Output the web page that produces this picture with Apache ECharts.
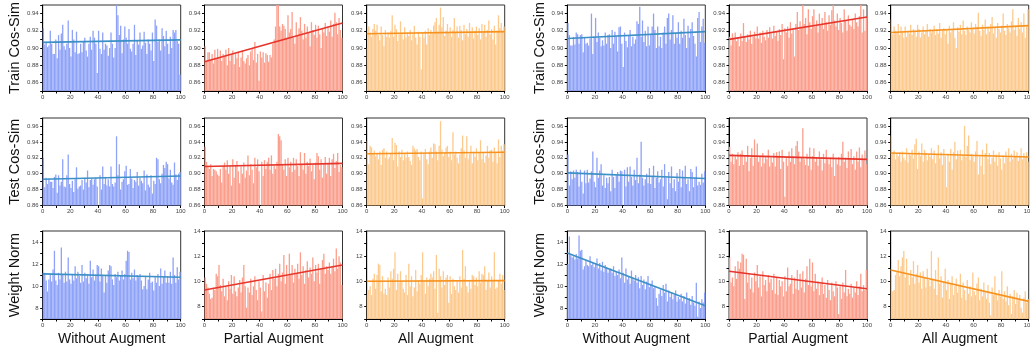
<!DOCTYPE html>
<html>
<head>
<meta charset="utf-8">
<script src="https://cdn.jsdelivr.net/npm/echarts@6/dist/echarts.min.js"></script>
<style>
html, body { margin: 0; padding: 0; background: #fff; }
#main { width: 1030px; height: 348px; }
</style>
</head>
<body>
<div id="main"></div>
<script>
//row / column titles
var rowNames = ['Train Cos-Sim', 'Test Cos-Sim', 'Weight Norm'];
var colNames = ['Without Augment', 'Partial Augment', 'All Augment'];

//train cos-sim, left group
var trainNoAugL = [
	0.923, 0.904, 0.906, 0.901, 0.903, 0.920, 0.905, 0.893, 0.893, 0.910,
	0.888, 0.915, 0.898, 0.917, 0.927, 0.902, 0.898, 0.905, 0.932, 0.900,
	0.890, 0.921, 0.910, 0.895, 0.919, 0.893, 0.894, 0.905, 0.895, 0.907,
	0.912, 0.897, 0.890, 0.905, 0.913, 0.898, 0.920, 0.912, 0.905, 0.871,
	0.920, 0.899, 0.893, 0.918, 0.898, 0.905, 0.903, 0.891, 0.900, 0.918,
	0.905, 0.889, 0.900, 0.950, 0.938, 0.915, 0.926, 0.894, 0.910, 0.925,
	0.912, 0.905, 0.922, 0.899, 0.896, 0.905, 0.927, 0.892, 0.909, 0.904,
	0.918, 0.899, 0.903, 0.919, 0.906, 0.893, 0.910, 0.905, 0.897, 0.918,
	0.885, 0.933, 0.926, 0.907, 0.910, 0.897, 0.923, 0.914, 0.902, 0.920,
	0.905, 0.893, 0.913, 0.900, 0.921, 0.918, 0.921, 0.908, 0.905, 0.869
];
var trainPartL = [
	0.902, 0.884, 0.895, 0.895, 0.886, 0.893, 0.882, 0.898, 0.888, 0.899,
	0.889, 0.897, 0.885, 0.893, 0.890, 0.898, 0.880, 0.900, 0.885, 0.892,
	0.897, 0.881, 0.893, 0.888, 0.895, 0.878, 0.889, 0.897, 0.885, 0.882,
	0.888, 0.892, 0.880, 0.896, 0.899, 0.886, 0.907, 0.883, 0.893, 0.862,
	0.896, 0.889, 0.895, 0.883, 0.894, 0.892, 0.884, 0.892, 0.889, 0.905,
	0.910, 0.925, 0.950, 0.950, 0.925, 0.920, 0.928, 0.926, 0.922, 0.912,
	0.938, 0.918, 0.922, 0.942, 0.912, 0.905, 0.930, 0.915, 0.923, 0.936,
	0.920, 0.910, 0.928, 0.912, 0.925, 0.918, 0.902, 0.930, 0.921, 0.915,
	0.927, 0.912, 0.926, 0.916, 0.900, 0.923, 0.918, 0.929, 0.914, 0.925,
	0.919, 0.932, 0.913, 0.928, 0.941, 0.930, 0.916, 0.935, 0.921, 0.912
];
var trainAllL = [
	0.900, 0.925, 0.918, 0.913, 0.922, 0.928, 0.920, 0.927, 0.915, 0.909,
	0.925, 0.915, 0.902, 0.921, 0.913, 0.918, 0.912, 0.920, 0.938, 0.913,
	0.927, 0.922, 0.908, 0.916, 0.931, 0.917, 0.910, 0.924, 0.912, 0.918,
	0.914, 0.921, 0.909, 0.916, 0.926, 0.912, 0.904, 0.919, 0.913, 0.875,
	0.918, 0.912, 0.920, 0.904, 0.923, 0.915, 0.921, 0.917, 0.926, 0.930,
	0.935, 0.919, 0.927, 0.947, 0.924, 0.936, 0.914, 0.920, 0.928, 0.918,
	0.924, 0.913, 0.921, 0.935, 0.918, 0.925, 0.912, 0.926, 0.921, 0.909,
	0.927, 0.916, 0.922, 0.913, 0.929, 0.918, 0.924, 0.911, 0.920, 0.925,
	0.915, 0.923, 0.910, 0.928, 0.918, 0.927, 0.913, 0.921, 0.932, 0.916,
	0.922, 0.910, 0.926, 0.904, 0.920, 0.938, 0.923, 0.929, 0.920, 0.925
];
//train cos-sim, right group
var trainNoAugR = [
	0.929, 0.915, 0.903, 0.903, 0.913, 0.904, 0.918, 0.916, 0.905, 0.915,
	0.916, 0.895, 0.912, 0.905, 0.906, 0.903, 0.911, 0.940, 0.893, 0.913,
	0.935, 0.907, 0.918, 0.912, 0.902, 0.909, 0.903, 0.918, 0.905, 0.915,
	0.916, 0.900, 0.921, 0.905, 0.919, 0.913, 0.896, 0.924, 0.925, 0.905,
	0.878, 0.918, 0.908, 0.901, 0.915, 0.921, 0.902, 0.913, 0.905, 0.910,
	0.931, 0.928, 0.948, 0.913, 0.932, 0.907, 0.920, 0.902, 0.925, 0.903,
	0.915, 0.925, 0.940, 0.921, 0.900, 0.925, 0.902, 0.913, 0.900, 0.918,
	0.925, 0.905, 0.935, 0.940, 0.910, 0.921, 0.938, 0.905, 0.917, 0.912,
	0.930, 0.905, 0.920, 0.912, 0.934, 0.915, 0.900, 0.926, 0.912, 0.922,
	0.930, 0.914, 0.905, 0.890, 0.935, 0.942, 0.907, 0.925, 0.934, 0.906
];
var trainPartR = [
	0.913, 0.903, 0.917, 0.911, 0.918, 0.908, 0.912, 0.902, 0.917, 0.908,
	0.929, 0.913, 0.907, 0.916, 0.910, 0.920, 0.905, 0.913, 0.919, 0.911,
	0.925, 0.911, 0.918, 0.906, 0.920, 0.913, 0.909, 0.921, 0.912, 0.924,
	0.917, 0.911, 0.926, 0.914, 0.919, 0.908, 0.922, 0.915, 0.928, 0.887,
	0.923, 0.918, 0.925, 0.912, 0.930, 0.917, 0.922, 0.890, 0.928, 0.942,
	0.921, 0.931, 0.925, 0.950, 0.928, 0.935, 0.916, 0.945, 0.930, 0.922,
	0.937, 0.945, 0.925, 0.932, 0.918, 0.940, 0.928, 0.935, 0.922, 0.942,
	0.930, 0.920, 0.938, 0.927, 0.944, 0.950, 0.932, 0.925, 0.940, 0.921,
	0.935, 0.929, 0.918, 0.945, 0.932, 0.920, 0.938, 0.927, 0.925, 0.933,
	0.922, 0.940, 0.930, 0.925, 0.937, 0.950, 0.918, 0.945, 0.920, 0.935
];
var trainAllR = [
	0.933, 0.916, 0.925, 0.920, 0.918, 0.928, 0.915, 0.925, 0.920, 0.912,
	0.925, 0.913, 0.920, 0.917, 0.927, 0.915, 0.922, 0.919, 0.913, 0.927,
	0.922, 0.912, 0.918, 0.925, 0.916, 0.920, 0.928, 0.913, 0.922, 0.918,
	0.920, 0.926, 0.915, 0.922, 0.917, 0.929, 0.912, 0.920, 0.923, 0.916,
	0.922, 0.905, 0.926, 0.918, 0.921, 0.930, 0.912, 0.900, 0.924, 0.919,
	0.927, 0.916, 0.932, 0.920, 0.915, 0.925, 0.921, 0.918, 0.930, 0.922,
	0.917, 0.928, 0.924, 0.941, 0.920, 0.914, 0.927, 0.921, 0.933, 0.916,
	0.925, 0.919, 0.928, 0.936, 0.917, 0.924, 0.912, 0.929, 0.922, 0.918,
	0.926, 0.940, 0.920, 0.915, 0.928, 0.923, 0.918, 0.931, 0.945, 0.921,
	0.926, 0.914, 0.935, 0.922, 0.930, 0.918, 0.940, 0.912, 0.925, 0.945
];

//test cos-sim, left group
var testNoAugL = [
	0.920, 0.883, 0.895, 0.887, 0.894, 0.890, 0.890, 0.882, 0.896, 0.899,
	0.876, 0.898, 0.885, 0.890, 0.918, 0.884, 0.883, 0.898, 0.924, 0.887,
	0.882, 0.891, 0.877, 0.893, 0.908, 0.881, 0.884, 0.885, 0.892, 0.880,
	0.895, 0.889, 0.904, 0.883, 0.892, 0.894, 0.886, 0.893, 0.895, 0.884,
	0.860, 0.898, 0.880, 0.909, 0.887, 0.896, 0.885, 0.893, 0.884, 0.909,
	0.887, 0.884, 0.889, 0.947, 0.898, 0.912, 0.880, 0.890, 0.893, 0.903,
	0.910, 0.886, 0.887, 0.906, 0.894, 0.882, 0.892, 0.890, 0.902, 0.885,
	0.895, 0.891, 0.888, 0.904, 0.879, 0.899, 0.886, 0.883, 0.898, 0.875,
	0.891, 0.887, 0.920, 0.918, 0.893, 0.888, 0.900, 0.911, 0.907, 0.915,
	0.912, 0.894, 0.905, 0.889, 0.886, 0.914, 0.899, 0.892, 0.900, 0.902
];
var testPartL = [
	0.934, 0.915, 0.910, 0.906, 0.912, 0.897, 0.906, 0.905, 0.903, 0.899,
	0.897, 0.906, 0.889, 0.910, 0.914, 0.905, 0.917, 0.900, 0.910, 0.885,
	0.918, 0.895, 0.910, 0.916, 0.903, 0.888, 0.909, 0.900, 0.914, 0.895,
	0.904, 0.923, 0.898, 0.912, 0.905, 0.888, 0.920, 0.908, 0.918, 0.903,
	0.860, 0.915, 0.897, 0.917, 0.906, 0.915, 0.920, 0.905, 0.923, 0.900,
	0.910, 0.906, 0.915, 0.950, 0.947, 0.942, 0.912, 0.905, 0.918, 0.897,
	0.920, 0.908, 0.915, 0.902, 0.920, 0.905, 0.918, 0.910, 0.897, 0.927,
	0.912, 0.905, 0.926, 0.900, 0.915, 0.910, 0.919, 0.903, 0.911, 0.893,
	0.914, 0.926, 0.922, 0.905, 0.918, 0.895, 0.912, 0.921, 0.900, 0.913,
	0.920, 0.897, 0.918, 0.925, 0.907, 0.916, 0.926, 0.902, 0.911, 0.908
];
var testAllL = [
	0.941, 0.912, 0.935, 0.933, 0.925, 0.929, 0.922, 0.925, 0.918, 0.928,
	0.911, 0.930, 0.932, 0.920, 0.928, 0.918, 0.921, 0.926, 0.945, 0.917,
	0.939, 0.936, 0.909, 0.928, 0.921, 0.930, 0.917, 0.925, 0.920, 0.928,
	0.921, 0.916, 0.911, 0.935, 0.932, 0.929, 0.931, 0.921, 0.917, 0.928,
	0.869, 0.925, 0.931, 0.918, 0.912, 0.928, 0.933, 0.920, 0.938, 0.937,
	0.928, 0.917, 0.935, 0.966, 0.930, 0.922, 0.926, 0.933, 0.935, 0.921,
	0.928, 0.917, 0.952, 0.924, 0.928, 0.920, 0.913, 0.924, 0.932, 0.948,
	0.929, 0.920, 0.947, 0.918, 0.925, 0.935, 0.913, 0.928, 0.921, 0.932,
	0.917, 0.927, 0.942, 0.918, 0.926, 0.914, 0.923, 0.935, 0.920, 0.929,
	0.930, 0.915, 0.933, 0.926, 0.913, 0.943, 0.921, 0.935, 0.929, 0.937
];
//test cos-sim, right group
var testNoAugR = [
	0.924, 0.885, 0.903, 0.893, 0.904, 0.895, 0.905, 0.902, 0.884, 0.905,
	0.890, 0.875, 0.904, 0.888, 0.905, 0.889, 0.894, 0.903, 0.928, 0.890,
	0.883, 0.920, 0.895, 0.904, 0.912, 0.885, 0.898, 0.882, 0.895, 0.888,
	0.896, 0.878, 0.905, 0.896, 0.882, 0.898, 0.902, 0.890, 0.904, 0.903,
	0.860, 0.905, 0.884, 0.908, 0.890, 0.909, 0.896, 0.885, 0.905, 0.892,
	0.920, 0.888, 0.899, 0.940, 0.895, 0.885, 0.893, 0.900, 0.888, 0.907,
	0.887, 0.896, 0.910, 0.882, 0.895, 0.903, 0.889, 0.893, 0.905, 0.884,
	0.912, 0.895, 0.868, 0.902, 0.888, 0.909, 0.882, 0.893, 0.878, 0.901,
	0.890, 0.906, 0.883, 0.904, 0.895, 0.910, 0.887, 0.893, 0.878, 0.906,
	0.902, 0.883, 0.895, 0.909, 0.885, 0.890, 0.886, 0.900, 0.889, 0.903
];
var testPartR = [
	0.934, 0.915, 0.925, 0.912, 0.922, 0.918, 0.927, 0.910, 0.925, 0.929,
	0.911, 0.922, 0.915, 0.935, 0.903, 0.920, 0.932, 0.910, 0.943, 0.920,
	0.938, 0.915, 0.922, 0.909, 0.926, 0.913, 0.922, 0.918, 0.930, 0.909,
	0.920, 0.914, 0.926, 0.909, 0.927, 0.922, 0.928, 0.906, 0.930, 0.915,
	0.871, 0.920, 0.910, 0.928, 0.915, 0.932, 0.922, 0.912, 0.935, 0.941,
	0.928, 0.915, 0.920, 0.957, 0.918, 0.911, 0.925, 0.910, 0.933, 0.905,
	0.922, 0.932, 0.915, 0.920, 0.910, 0.928, 0.918, 0.904, 0.925, 0.913,
	0.930, 0.918, 0.912, 0.920, 0.908, 0.925, 0.897, 0.918, 0.912, 0.921,
	0.910, 0.925, 0.940, 0.915, 0.920, 0.907, 0.928, 0.918, 0.931, 0.912,
	0.922, 0.905, 0.928, 0.915, 0.933, 0.908, 0.924, 0.917, 0.929, 0.912
];
var testAllR = [
	0.948, 0.925, 0.929, 0.918, 0.925, 0.922, 0.927, 0.915, 0.928, 0.920,
	0.917, 0.932, 0.914, 0.925, 0.923, 0.930, 0.919, 0.937, 0.944, 0.906,
	0.928, 0.922, 0.938, 0.915, 0.930, 0.926, 0.917, 0.925, 0.921, 0.932,
	0.918, 0.929, 0.913, 0.924, 0.936, 0.919, 0.927, 0.911, 0.931, 0.922,
	0.883, 0.925, 0.915, 0.931, 0.905, 0.927, 0.940, 0.918, 0.929, 0.922,
	0.930, 0.917, 0.923, 0.960, 0.921, 0.935, 0.948, 0.917, 0.925, 0.922,
	0.915, 0.928, 0.941, 0.899, 0.922, 0.910, 0.930, 0.899, 0.926, 0.938,
	0.918, 0.926, 0.912, 0.920, 0.929, 0.915, 0.924, 0.910, 0.927, 0.919,
	0.905, 0.923, 0.913, 0.928, 0.920, 0.932, 0.915, 0.925, 0.918, 0.929,
	0.921, 0.927, 0.916, 0.923, 0.932, 0.918, 0.926, 0.921, 0.927, 0.915
];

//weight norm, left group
var normNoAugL = [
	11.2, 11.2, 10.5, 9.5, 10.6, 11.0, 10.4, 11.5, 13.2, 10.5,
	10.1, 11.2, 10.6, 13.5, 11.1, 10.3, 11.3, 10.4, 12.6, 10.6,
	10.2, 11.0, 10.5, 11.8, 10.7, 11.3, 10.9, 10.3, 11.9, 10.4,
	11.2, 10.7, 11.1, 10.2, 12.3, 10.8, 11.5, 10.5, 11.0, 11.9,
	11.8, 10.4, 11.6, 10.9, 9.4, 11.0, 10.3, 11.4, 11.9, 11.8,
	10.6, 10.1, 11.1, 10.8, 11.3, 10.5, 10.9, 11.4, 10.6, 11.1,
	12.3, 13.2, 13.1, 10.6, 11.2, 10.7, 11.5, 10.5, 11.0, 10.8,
	11.1, 10.5, 9.7, 10.0, 10.9, 9.7, 10.6, 11.2, 10.3, 10.4,
	9.6, 10.9, 10.3, 11.1, 10.0, 11.6, 10.2, 10.8, 11.4, 10.3,
	10.9, 10.3, 11.3, 10.2, 12.6, 11.0, 10.3, 11.7, 10.6, 11.3
];
var normPartL = [
	10.3, 9.8, 9.5, 9.0, 8.6, 8.7, 9.5, 9.3, 10.6, 10.4,
	11.3, 9.7, 9.2, 10.2, 8.8, 9.6, 8.5, 10.0, 9.4, 10.5,
	9.0, 10.4, 9.2, 8.8, 9.5, 10.1, 9.1, 10.3, 11.3, 9.6,
	7.9, 9.5, 9.1, 10.2, 8.9, 9.6, 10.4, 9.3, 8.5, 10.0,
	9.5, 7.6, 10.5, 9.2, 9.9, 8.7, 9.8, 10.6, 9.3, 10.9,
	10.2, 11.0, 9.6, 10.6, 11.4, 10.0, 10.7, 12.1, 9.8, 11.3,
	10.4, 12.2, 10.5, 11.3, 9.9, 11.0, 10.6, 11.4, 10.2, 12.3,
	10.5, 11.2, 9.8, 10.9, 11.6, 10.3, 11.1, 10.6, 11.9, 10.0,
	11.3, 10.7, 11.4, 9.8, 11.0, 11.7, 12.2, 10.6, 11.2, 10.9,
	11.5, 10.6, 11.2, 11.8, 10.8, 12.6, 11.0, 12.0, 11.5, 9.7
];
var normAllL = [
	8.9, 9.3, 9.6, 8.9, 10.2, 10.6, 9.4, 10.5, 11.4, 11.3,
	9.2, 10.4, 9.0, 9.4, 8.9, 10.3, 9.5, 10.8, 10.2, 11.0,
	12.3, 9.3, 10.6, 9.9, 10.8, 10.0, 9.4, 9.1, 10.5, 8.9,
	11.4, 9.6, 10.4, 8.8, 9.5, 10.9, 9.2, 10.1, 9.8, 10.5,
	12.3, 10.0, 9.0, 10.3, 9.6, 10.2, 10.6, 10.3, 10.8, 9.4,
	12.1, 7.5, 11.0, 10.4, 9.5, 10.8, 9.7, 10.3, 10.5, 8.3,
	10.4, 9.0, 10.2, 9.6, 9.3, 10.0, 9.1, 10.4, 9.5, 12.5,
	10.2, 11.2, 9.6, 9.1, 10.0, 9.4, 10.5, 10.4, 9.7, 10.3,
	9.6, 10.8, 9.9, 10.6, 10.5, 11.2, 9.3, 10.0, 10.7, 9.5,
	10.4, 10.0, 12.3, 9.4, 9.5, 10.1, 10.6, 9.8, 10.5, 9.3
];
//weight norm, right group
var normNoAugR = [
	12.0, 14.5, 12.8, 12.6, 12.7, 12.4, 12.9, 12.5, 14.6, 13.2,
	13.3, 11.5, 11.8, 12.3, 11.9, 11.8, 12.7, 11.9, 12.1, 11.7,
	12.0, 12.5, 11.6, 12.1, 11.4, 12.2, 11.3, 11.9, 11.7, 11.2,
	11.5, 11.6, 11.2, 11.8, 10.9, 11.3, 11.0, 11.5, 10.7, 12.6,
	11.2, 10.3, 11.6, 10.6, 10.9, 10.2, 11.4, 10.7, 10.5, 11.0,
	10.3, 10.8, 9.8, 10.9, 10.1, 10.6, 9.7, 10.4, 10.9, 9.9,
	10.2, 10.5, 9.8, 10.0, 8.9, 8.2, 9.3, 9.7, 9.1, 10.1,
	9.4, 10.2, 8.6, 9.6, 9.0, 9.4, 8.8, 9.2, 9.6, 8.6,
	9.0, 8.8, 9.3, 8.6, 9.1, 8.4, 9.4, 8.7, 8.9, 8.3,
	9.1, 8.5, 8.2, 10.3, 7.2, 8.6, 8.0, 8.8, 8.5, 9.4
];
var normPartR = [
	11.9, 9.9, 10.3, 9.6, 11.2, 10.2, 11.6, 11.0, 11.5, 12.2,
	12.1, 8.6, 11.8, 9.9, 10.6, 9.4, 10.3, 9.1, 10.7, 10.0,
	11.3, 9.5, 10.4, 8.8, 10.8, 9.7, 10.1, 9.2, 10.5, 9.9,
	10.2, 9.3, 10.6, 9.0, 10.3, 8.9, 10.1, 9.6, 10.0, 8.8,
	10.4, 9.2, 11.1, 9.6, 9.8, 10.5, 9.0, 10.3, 9.4, 10.9,
	9.3, 10.6, 9.5, 10.8, 9.1, 10.2, 11.2, 9.7, 11.8, 9.6,
	11.5, 9.2, 10.6, 9.4, 10.0, 8.9, 9.8, 10.3, 9.0, 9.7,
	8.7, 10.1, 9.3, 8.5, 9.9, 9.2, 8.8, 10.0, 9.5, 7.4,
	9.6, 8.6, 9.9, 9.1, 10.9, 8.8, 9.4, 9.0, 9.8, 8.7,
	9.5, 9.1, 10.0, 8.9, 9.6, 10.6, 9.2, 9.7, 9.3, 10.9
];
var normAllR = [
	11.0, 9.2, 9.3, 10.5, 10.8, 11.7, 10.4, 11.2, 11.9, 12.4,
	10.3, 11.8, 10.5, 9.7, 10.9, 10.3, 11.6, 9.8, 10.6, 11.3,
	9.9, 10.7, 9.4, 10.8, 10.3, 9.5, 11.0, 10.1, 9.6, 12.4,
	10.2, 9.4, 10.9, 8.9, 11.9, 9.8, 10.4, 8.7, 10.0, 11.0,
	9.3, 10.1, 8.6, 9.8, 10.4, 8.9, 9.6, 10.2, 9.1, 9.7,
	10.6, 8.7, 9.9, 9.3, 8.5, 10.1, 9.0, 9.6, 8.8, 10.7,
	9.2, 8.9, 9.8, 10.3, 8.5, 9.4, 8.8, 9.9, 9.1, 8.6,
	9.7, 8.3, 7.3, 9.5, 8.9, 10.4, 9.0, 8.5, 9.3, 8.8,
	10.8, 8.6, 9.2, 8.4, 9.6, 8.1, 9.0, 7.4, 8.8, 9.3,
	8.2, 9.1, 8.5, 8.9, 7.9, 7.5, 8.7, 9.2, 8.3, 8.6
];

//linear fit: [value at x=0, value at x=100], one per column
var trainFit = [[0.9065, 0.9095], [0.884, 0.929], [0.9165, 0.919], [0.911, 0.919], [0.910, 0.936], [0.918, 0.926]];
var testFit = [[0.893, 0.897], [0.909, 0.913], [0.925, 0.927], [0.901, 0.894], [0.923, 0.918], [0.926, 0.921]];
var normFit = [[11.1, 10.8], [9.3, 11.3], [10.0, 10.05], [13.0, 8.2], [10.8, 9.4], [10.9, 8.4]];

//y ranges: [min, max, step]
var trainRange = [0.85, 0.95, 0.01];
var testRange = [0.86, 0.97, 0.01];
var normRanges = [[7, 15, 1], [7, 14, 1], [7, 14, 1], [7, 15, 1], [7, 14, 1], [7, 14, 1]];

var panelData = [
	[trainNoAugL, trainPartL, trainAllL, trainNoAugR, trainPartR, trainAllR],
	[testNoAugL, testPartL, testAllL, testNoAugR, testPartR, testAllR],
	[normNoAugL, normPartL, normAllL, normNoAugR, normPartR, normAllR]
];
var panelFit = [trainFit, testFit, normFit];

//layout
var colLeft = [42.7, 204.5, 366.7, 567.3, 729, 890.7];
var plotWidth = 138;
var rowTop = [5, 118, 231];
var rowHeight = [86, 87.5, 88];
var barColors = ['#8ea2f8', '#fb9e8c', '#fdca8e'];
var lineColors = ['#3b90c6', '#e7352b', '#f7921e'];
var font = 'Liberation Sans, Arial, sans-serif';

var cosLabel = function(v) {
	var k = Math.round(v * 100);
	return k % 2 === 0 ? v.toFixed(2) : '';
};
var normLabel = function(v) {
	var k = Math.round(v);
	return k % 2 === 0 ? String(k) : '';
};

var buildOption = function() {
	var grids = [], xAxes = [], yAxes = [], series = [];
	for(var r = 0; r < 3; r++) {
		for(var c = 0; c < 6; c++) {
			var k = r * 6 + c;
			var range = r === 0 ? trainRange : (r === 1 ? testRange : normRanges[c]);
			var colour = c % 3;
			grids.push({
				left: colLeft[c],
				top: rowTop[r],
				width: plotWidth,
				height: rowHeight[r],
				show: true,
				borderColor: '#333',
				borderWidth: 1,
				outerBoundsMode: 'none'
			});
			//hidden category axis for the bars
			xAxes.push({
				type: 'category',
				gridIndex: k,
				show: false,
				boundaryGap: true
			});
			//visible 0..100 axis
			xAxes.push({
				type: 'value',
				gridIndex: k,
				position: 'bottom',
				min: 0,
				max: 100,
				interval: 10,
				splitLine: { show: false },
				axisLine: { show: true, lineStyle: { color: '#000', width: 1 } },
				axisTick: { show: true, inside: false, length: 2.5, lineStyle: { color: '#000' } },
				axisLabel: {
					fontSize: 6,
					color: '#444',
					margin: 3,
					fontFamily: font,
					formatter: function(v) { return v % 20 === 0 ? String(v) : ''; }
				},
				name: r === 2 ? colNames[colour] : '',
				nameLocation: 'middle',
				nameGap: 13,
				nameTextStyle: { fontSize: 14, color: '#111', fontFamily: font }
			});
			yAxes.push({
				type: 'value',
				gridIndex: k,
				min: range[0],
				max: range[1],
				interval: range[2],
				splitLine: { show: false },
				axisLine: { show: true, lineStyle: { color: '#000', width: 1 } },
				axisTick: { show: true, inside: false, length: 2.5, lineStyle: { color: '#000' } },
				axisLabel: {
					fontSize: 6,
					color: '#444',
					margin: 4,
					fontFamily: font,
					formatter: r === 2 ? normLabel : cosLabel
				},
				name: (c === 0 || c === 3) ? rowNames[r] : '',
				nameLocation: 'middle',
				nameGap: 20,
				nameTextStyle: { fontSize: 14.5, color: '#111', fontFamily: font }
			});
			series.push({
				type: 'bar',
				xAxisIndex: 2 * k,
				yAxisIndex: k,
				data: panelData[r][c],
				barCategoryGap: '6%',
				clip: true,
				silent: true,
				itemStyle: { color: barColors[colour] }
			});
			series.push({
				type: 'line',
				xAxisIndex: 2 * k + 1,
				yAxisIndex: k,
				data: [[0, panelFit[r][c][0]], [100, panelFit[r][c][1]]],
				symbol: 'none',
				silent: true,
				lineStyle: { color: lineColors[colour], width: 1.6 }
			});
		}
	}
	return {
		animation: false,
		backgroundColor: '#fff',
		grid: grids,
		xAxis: xAxes,
		yAxis: yAxes,
		series: series
	};
};

var chart = echarts.init(document.getElementById('main'));
chart.setOption(buildOption());
</script>
</body>
</html>
